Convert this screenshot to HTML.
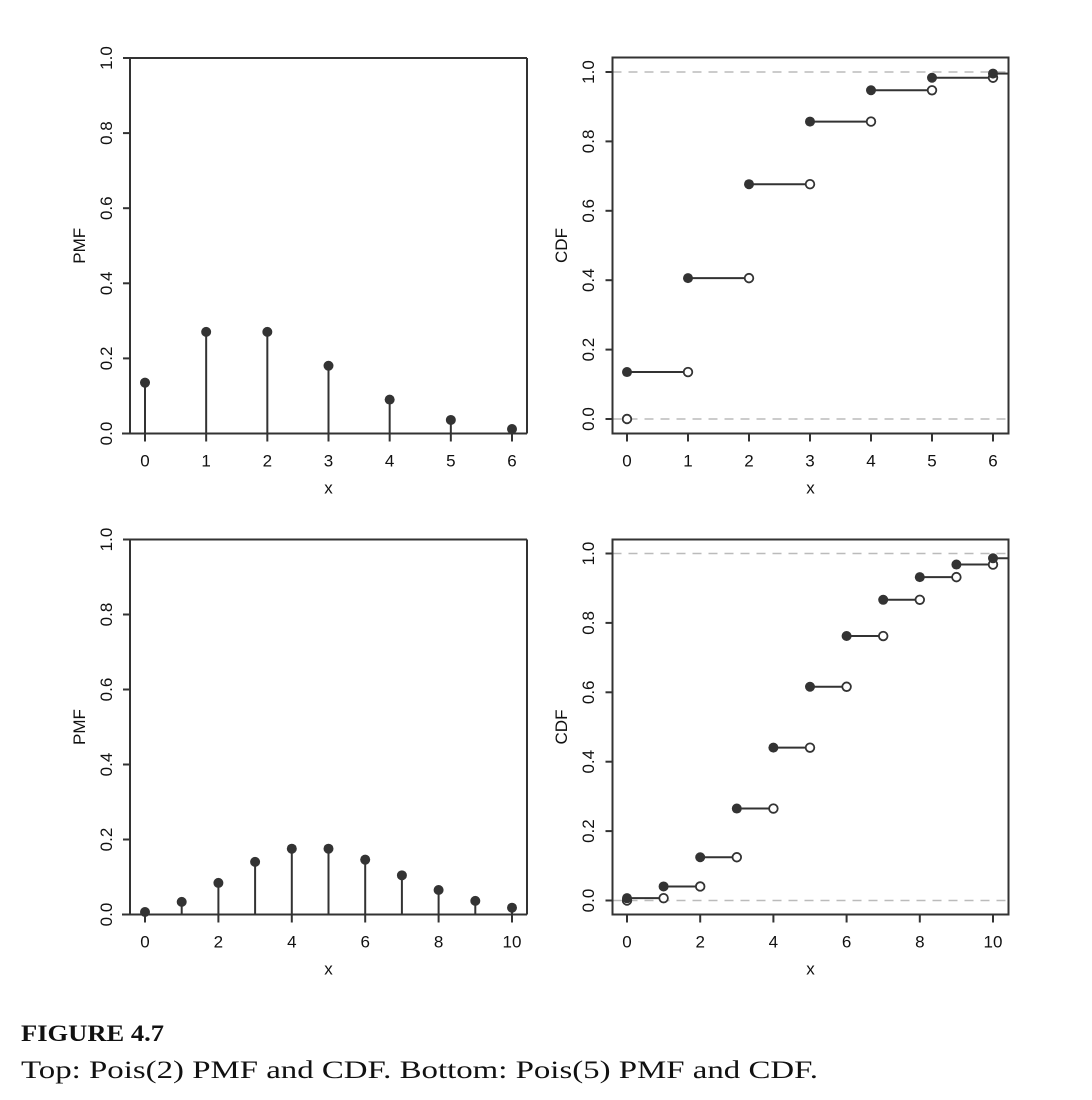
<!DOCTYPE html>
<html><head><meta charset="utf-8"><style>
html,body{margin:0;padding:0;background:#fff;width:1092px;height:1100px;overflow:hidden}
svg{display:block}
</style></head><body>
<svg id="s" width="1092" height="1100" xmlns="http://www.w3.org/2000/svg" font-family="Liberation Sans, Arial, sans-serif"></svg>
<script>
var s=document.getElementById('s'),h='';
var C='#333';
function line(x1,y1,x2,y2,st){h+='<line x1="'+x1+'" y1="'+y1+'" x2="'+x2+'" y2="'+y2+'" stroke="'+(st||C)+'" stroke-width="2"/>';}
function dot(x,y){h+='<circle cx="'+x+'" cy="'+y+'" r="5" fill="'+C+'"/>';}
function odot(x,y){h+='<circle cx="'+x+'" cy="'+y+'" r="4.3" fill="#fff" stroke="'+C+'" stroke-width="1.8"/>';}
function txt(x,y,t,rot){h+='<text x="'+x+'" y="'+y+'" font-size="17" text-anchor="middle" fill="#111"'+(rot?' transform="rotate(-90 '+x+' '+y+')"':'')+'>'+t+'</text>';}
function yaxis(ax,y0,y1,lab,lx,ylabx,ylabel,top,bot){
  line(ax,y1,ax,y0);
  for(var i=0;i<=5;i++){var v=i*0.2,y=y0+(y1-y0)*v;line(ax-7,y,ax,y);txt(lx,y,v.toFixed(1),1);}
  txt(ylabx,(top+bot)/2,ylabel,1);
}
function xaxis(x0,dx,n,step,ay,lby,xlby,xl,xr){
  for(var k=0;k<=n;k+=step){var x=x0+dx*k;line(x,ay,x,ay+8);txt(x,lby,k);}
  txt((xl+xr)/2,xlby,'x');
}
function poi(l,n){var p=[],c=[],t=Math.exp(-l),cs=0;for(var k=0;k<=n;k++){if(k>0)t*=l/k;cs+=t;p.push(t);c.push(cs);}return [p,c];}
function pmf(top,bot,n,step,p){
  var L=130,R=527,x0=145,dx=(512-145)/n;
  line(L,top,R,top);line(R,top,R,bot);line(L-8,bot,R,bot);
  yaxis(L,bot,top,0,112,85,'PMF',top,bot);
  for(var k=0;k<=n;k++){var x=x0+dx*k,y=bot-(bot-top)*p[k];line(x,bot,x,y);dot(x,y);}
  xaxis(x0,dx,n,step,bot,bot+33,bot+60,L,R);
}
function cdf(top,bot,y1,y0,n,step,c){
  var L=612.5,R=1008.5,x0=627,dx=(993-627)/n;
  h+='<line x1="'+L+'" y1="'+y1+'" x2="'+R+'" y2="'+y1+'" stroke="#bbb" stroke-width="1.5" stroke-dasharray="9,7"/>';
  h+='<line x1="'+L+'" y1="'+y0+'" x2="'+R+'" y2="'+y0+'" stroke="#bbb" stroke-width="1.5" stroke-dasharray="9,7"/>';
  h+='<rect x="'+L+'" y="'+top+'" width="'+(R-L)+'" height="'+(bot-top)+'" fill="none" stroke="'+C+'" stroke-width="2"/>';
  yaxis(L,y0,y1,0,594,567,'CDF',top,bot);
  function Y(v){return y0-(y0-y1)*v;}
  odot(x0,y0);
  for(var k=0;k<=n;k++){var x=x0+dx*k,y=Y(c[k]);
    if(k<n){line(x,y,x+dx,y);odot(x+dx,y);} else line(x,y,R,y);
    dot(x,y);}
  xaxis(x0,dx,n,step,bot,bot+33,bot+60,L,R);
}
var a=poi(2,6),b=poi(5,10);
pmf(58,433.5,6,1,a[0]);
cdf(57.5,433.5,72,419,6,1,a[1]);
pmf(539.5,914.5,10,2,b[0]);
cdf(539.5,914.5,553.5,900.5,10,2,b[1]);
h+='<text x="21" y="1041" font-family="Liberation Serif, serif" font-weight="bold" font-size="23" fill="#111" textLength="143" lengthAdjust="spacingAndGlyphs">FIGURE 4.7</text>';
h+='<text x="21" y="1078" font-family="Liberation Serif, serif" font-size="25" fill="#111" textLength="797" lengthAdjust="spacingAndGlyphs">Top: Pois(2) PMF and CDF. Bottom: Pois(5) PMF and CDF.</text>';
s.innerHTML=h;
</script>
</body></html>
